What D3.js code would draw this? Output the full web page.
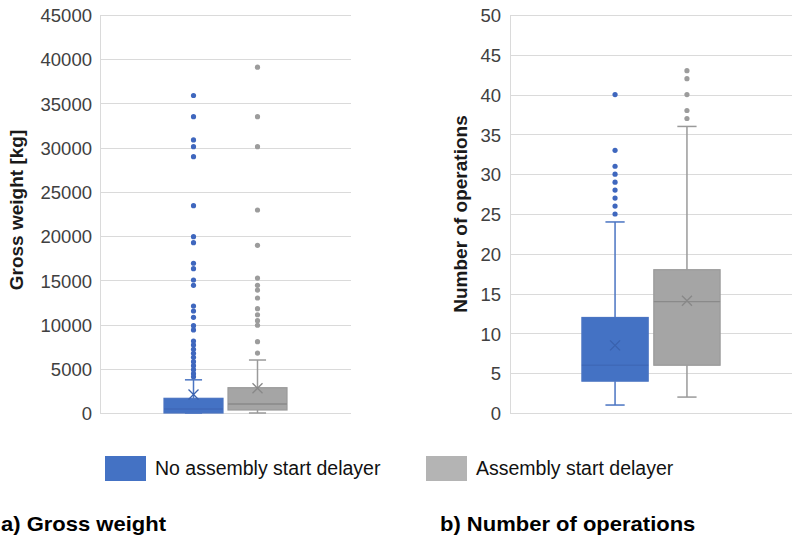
<!DOCTYPE html>
<html>
<head>
<meta charset="utf-8">
<script src="https://cdn.jsdelivr.net/npm/d3@7"></script>
<style>
  html, body { margin: 0; padding: 0; background: #ffffff; }
  svg { display: block; }
  text { font-family: "Liberation Sans", Arial, sans-serif; }
</style>
</head>
<body>
<svg id="chart" width="793" height="539"></svg>
<script>
// ---------- DATA ----------
const categories = ["No assembly start delayer", "Assembly start delayer"];

// (a) Gross weight [kg]
const gwTicks   = [0, 5000, 10000, 15000, 20000, 25000, 30000, 35000, 40000, 45000];
const gwMin     = [0, 0];
const gwQ1      = [0, 340];
const gwMedian  = [450, 1020];
const gwQ3      = [1660, 2860];
const gwMax     = [3750, 5990];
const gwMean    = [2100, 2800];
const gwOutliersNo  = [4100, 4450, 4900, 5350, 5800, 6300, 6750, 7200, 7700, 8140,
                       9390, 9870, 10820, 11530, 12100, 14430, 15040, 16320, 16930,
                       19260, 19940, 23440, 28980, 30110, 30870, 33500, 35900];
const gwOutliersYes = [6780, 8070, 9920, 10440, 11110, 11800, 13000, 13900, 14430,
                       15260, 18960, 22950, 30110, 33500, 39100];

// (b) Number of operations
const noTicks   = [0, 5, 10, 15, 20, 25, 30, 35, 40, 45, 50];
const noMin     = [1, 2];
const noQ1      = [4, 6];
const noMedian  = [6, 14];
const noQ3      = [12, 18];
const noMax     = [24, 36];
const noMean    = [8.5, 14.1];
const noOutliersNo  = [25, 26, 27, 28, 29, 30, 31, 33, 40];
const noOutliersYes = [37, 38, 40, 42, 43];

const yTitles   = ["Gross weight [kg]", "Number of operations"];
const captions  = ["a) Gross weight", "b) Number of operations"];

// ---------- STYLE ----------
const fills     = ["#4472C4", "#A5A5A5"];
const strokes   = ["#4A74C2", "#9A9A9A"];
const medianCol = ["#3F69B8", "#8A8A8A"];
const meanCol   = ["#3A62AE", "#888888"];
const dotCol    = ["#3F67BE", "#9C9C9C"];
const legendCol = ["#4472C4", "#B4B4B4"];

const svg = d3.select("#chart");

function drawPanel(p) {
  const g = svg.append("g");
  const y = d3.scaleLinear().domain([p.ticks[0], p.ticks[p.ticks.length - 1]]).range([p.bottom, p.top]);
  const x = d3.scaleBand().domain(categories).range([p.left, p.right])
    .paddingInner(0.078).paddingOuter(1.0);

  // gridlines
  g.append("g").selectAll("line").data(p.ticks).join("line")
    .attr("x1", p.left).attr("x2", p.right)
    .attr("y1", d => Math.round(y(d)) + 0.5).attr("y2", d => Math.round(y(d)) + 0.5)
    .attr("stroke", "#DADADA").attr("stroke-width", 1);
  // vertical axis line
  g.append("line")
    .attr("x1", p.left + 0.5).attr("x2", p.left + 0.5)
    .attr("y1", y(p.ticks[p.ticks.length - 1])).attr("y2", y(p.ticks[0]))
    .attr("stroke", "#DADADA").attr("stroke-width", 1);

  // tick labels via d3 axis
  const axis = d3.axisLeft(y).tickValues(p.ticks).tickSize(0).tickPadding(0).tickFormat(d3.format("d"));
  const ax = g.append("g").attr("transform", `translate(${p.labelRight},0)`).call(axis);
  ax.select(".domain").remove();
  ax.selectAll("text")
    .attr("fill", "#404040")
    .style("font-size", "18.5px")
    .style("font-family", "'Liberation Sans', Arial, sans-serif")
    .attr("dy", "0.36em");

  // y title
  g.append("text")
    .attr("transform", `translate(${p.titleX},${p.titleY}) rotate(-90)`)
    .attr("text-anchor", "middle")
    .attr("dy", "0.35em")
    .style("font-size", "19px").style("font-weight", "bold").attr("fill", "#1a1a1a")
    .text(p.yTitle);

  const bw = x.bandwidth();
  const capW = bw * 0.29;

  categories.forEach((c, i) => {
    const cx = x(c) + bw / 2;
    const bg = g.append("g");
    // whiskers
    bg.append("line").attr("x1", cx).attr("x2", cx)
      .attr("y1", y(p.q3[i])).attr("y2", y(p.max[i]))
      .attr("stroke", strokes[i]).attr("stroke-width", 1.5);
    bg.append("line").attr("x1", cx).attr("x2", cx)
      .attr("y1", y(p.q1[i])).attr("y2", y(p.min[i]))
      .attr("stroke", strokes[i]).attr("stroke-width", 1.5);
    bg.append("line").attr("x1", cx - capW / 2).attr("x2", cx + capW / 2)
      .attr("y1", y(p.max[i])).attr("y2", y(p.max[i]))
      .attr("stroke", strokes[i]).attr("stroke-width", 1.5);
    bg.append("line").attr("x1", cx - capW / 2).attr("x2", cx + capW / 2)
      .attr("y1", y(p.min[i])).attr("y2", y(p.min[i]))
      .attr("stroke", strokes[i]).attr("stroke-width", 1.5);
    // box
    bg.append("rect")
      .attr("x", x(c)).attr("width", bw)
      .attr("y", y(p.q3[i])).attr("height", Math.max(1, y(p.q1[i]) - y(p.q3[i])))
      .attr("fill", fills[i]).attr("stroke", strokes[i]).attr("stroke-width", 1.2);
    // median
    bg.append("line").attr("x1", x(c)).attr("x2", x(c) + bw)
      .attr("y1", y(p.median[i])).attr("y2", y(p.median[i]))
      .attr("stroke", medianCol[i]).attr("stroke-width", 1.3);
    // mean X
    const my = y(p.mean[i]), s = 5;
    bg.append("path")
      .attr("d", `M${cx - s},${my - s}L${cx + s},${my + s}M${cx - s},${my + s}L${cx + s},${my - s}`)
      .attr("stroke", meanCol[i]).attr("stroke-width", 1.3).attr("fill", "none");
    // outliers
    bg.selectAll("circle").data(p.outliers[i]).join("circle")
      .attr("cx", cx).attr("cy", d => y(d)).attr("r", 2.6)
      .attr("fill", dotCol[i]);
  });

  // caption
  g.append("text")
    .attr("x", p.capX).attr("y", 531)
    .style("font-size", "20px").style("font-weight", "bold").attr("fill", "#000")
    .attr("transform", `translate(${p.capX},0) scale(1.1,1) translate(${-p.capX},0)`)
    .text(p.caption);
}

drawPanel({
  ticks: gwTicks, min: gwMin, q1: gwQ1, median: gwMedian, q3: gwQ3, max: gwMax, mean: gwMean,
  outliers: [gwOutliersNo, gwOutliersYes],
  left: 100, right: 351, top: 15, bottom: 413, labelRight: 92,
  titleX: 16, titleY: 210, yTitle: yTitles[0], caption: captions[0], capX: 1
});

drawPanel({
  ticks: noTicks, min: noMin, q1: noQ1, median: noMedian, q3: noQ3, max: noMax, mean: noMean,
  outliers: [noOutliersNo, noOutliersYes],
  left: 510, right: 792, top: 15, bottom: 413, labelRight: 501,
  titleX: 460, titleY: 214, yTitle: yTitles[1], caption: captions[1], capX: 440
});

// legend
const legendX = [105, 426];
const leg = svg.append("g");
categories.forEach((c, i) => {
  leg.append("rect").attr("x", legendX[i]).attr("y", 456).attr("width", 41).attr("height", 25)
    .attr("fill", legendCol[i]);
  leg.append("text").attr("x", legendX[i] + 50).attr("y", 475)
    .style("font-size", "19.5px").attr("fill", "#111").text(c);
});
</script>
</body>
</html>
